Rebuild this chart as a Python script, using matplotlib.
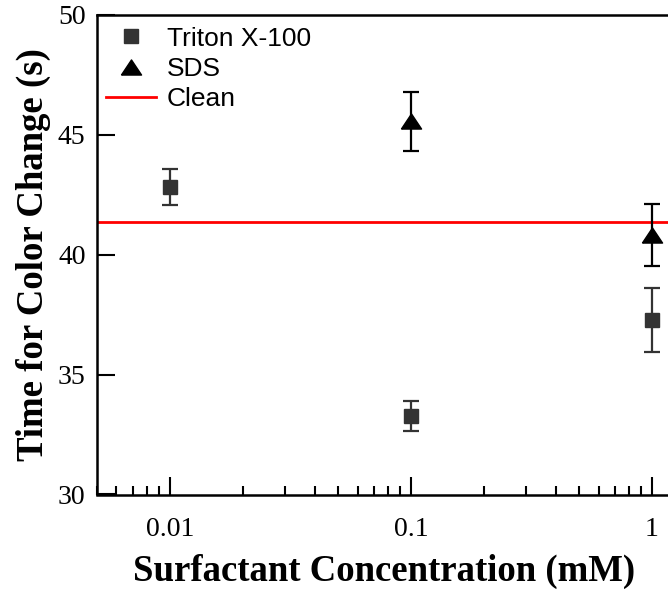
import numpy as np
import matplotlib
matplotlib.use("Agg")
import matplotlib.pyplot as plt
from matplotlib.lines import Line2D
from matplotlib.ticker import LogLocator, FixedLocator, NullFormatter, FixedFormatter

# Surfactant concentration (mM) and color-change times (s)
triton_conc = [0.01, 0.1, 1.0]
triton_time = [42.82, 33.28, 37.27]
triton_err = [0.74, 0.62, 1.32]

sds_conc = [0.1, 1.0]
sds_time = [45.55, 40.83]
sds_err = [1.24, 1.29]

clean_time = 41.36

xtick_vals = [0.01, 0.1, 1]
xtick_labels = ["0.01", "0.1", "1"]
ytick_vals = [30, 35, 40, 45, 50]

fig = plt.figure(figsize=(6.68, 5.96), dpi=100)
W, H = 668, 596
left_px, right_px, top_px, bot_px = 97.4, 671.1, 14.7, 494.5
ax = fig.add_axes([left_px / W, 1 - bot_px / H, (right_px - left_px) / W, (bot_px - top_px) / H])

serif = ["Liberation Serif", "DejaVu Serif"]
sans = ["Liberation Sans", "DejaVu Sans"]

# flattened upward triangle
tri = [(-1, -0.75), (1, -0.75), (0, 0.75), (-1, -0.75)]

triton_color = "#333333"

ax.axhline(clean_time, color="#ff0000", lw=2.0, zorder=2)

ax.errorbar(triton_conc, triton_time, yerr=triton_err, fmt="s", color=triton_color,
            ms=9.5, capsize=5.5, capthick=1.6, elinewidth=1.6, zorder=3)
ax.errorbar(sds_conc, sds_time, yerr=sds_err, fmt="none", ecolor="black",
            capsize=6, capthick=1.6, elinewidth=1.6, zorder=3)
ax.plot(sds_conc, sds_time, linestyle="none", marker=tri, color="black", ms=14.5, zorder=4)

ax.set_xscale("log")
ax.set_xlim(0.005, 1.2)
ax.set_ylim(30, 50)

ax.xaxis.set_major_locator(FixedLocator(xtick_vals))
ax.xaxis.set_major_formatter(FixedFormatter(xtick_labels))
ax.xaxis.set_minor_locator(LogLocator(base=10, subs=np.arange(2, 10)))
ax.xaxis.set_minor_formatter(NullFormatter())
ax.set_yticks(ytick_vals)

ax.tick_params(axis="both", which="major", direction="in", length=13, width=1.5,
               labelsize=20)
ax.tick_params(axis="x", which="major", pad=16.5)
ax.tick_params(axis="y", which="major", pad=8.5)
ax.tick_params(axis="x", which="minor", direction="in", length=6.5, width=1.5)
ax.tick_params(axis="y", which="minor", left=False)
ax.tick_params(top=False, right=False)
for lab in ax.get_xticklabels() + ax.get_yticklabels():
    lab.set_fontfamily(serif)

for sp in ax.spines.values():
    sp.set_linewidth(1.8)

ax.set_xlabel("Surfactant Concentration (mM)", fontfamily=serif, fontweight="bold",
              fontsize=26.5, labelpad=8)
ax.set_ylabel("Time for Color Change (s)", fontfamily=serif, fontweight="bold",
              fontsize=26.5, labelpad=5)

handles = [
    Line2D([], [], linestyle="none", marker="s", color=triton_color, ms=9.5),
    Line2D([], [], linestyle="none", marker=tri, color="black", ms=14.5),
    Line2D([], [], color="#ff0000", lw=2.0),
]
labels = ["Triton X-100", "SDS", "Clean"]
ax.legend(handles, labels, loc="upper left", frameon=False,
          prop={"family": sans, "size": 19},
          handlelength=1.9, handletextpad=0.42, labelspacing=0.24,
          borderaxespad=0.0, borderpad=0.45, bbox_to_anchor=(-0.006, 1.0))

fig.savefig("out.png", dpi=100)
